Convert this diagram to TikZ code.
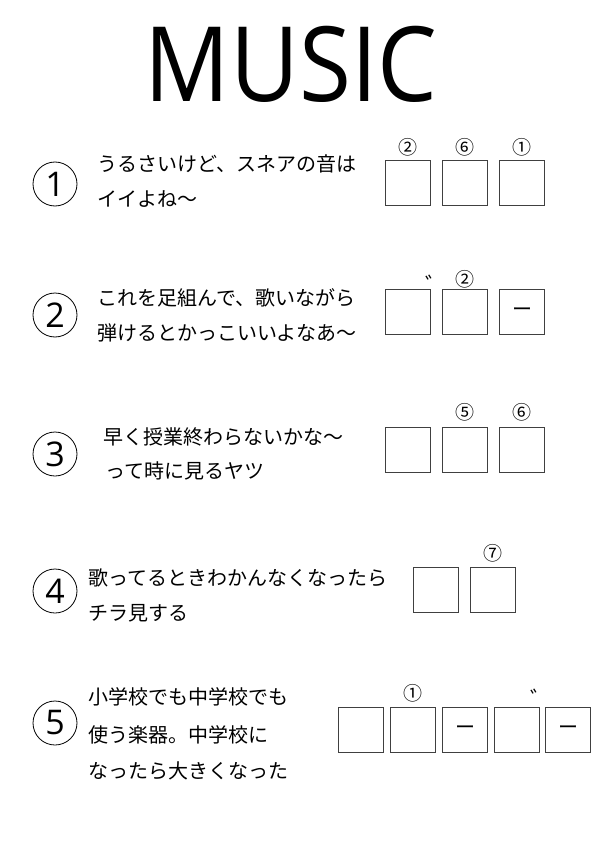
\documentclass[tikz,border=0pt]{standalone}
\usepackage{fontspec}
\setmainfont{Noto Sans CJK JP}
\newfontfamily\titlefont{Open Sans}
\begin{document}
\begin{tikzpicture}[x=1pt,y=-1pt,
  ansbox/.style={draw=black!75,line width=1pt,minimum size=45pt,inner sep=0pt,font=\fontsize{20}{20}\selectfont},
  numcirc/.style={draw,circle,line width=0.8pt,minimum size=44pt,inner sep=0pt,font=\titlefont\fontsize{34}{34}\selectfont},
  hint/.style={inner sep=0pt,font=\fontsize{19}{19}\selectfont},
  dak/.style={inner sep=0pt,font=\fontsize{22}{22}\selectfont},
  qtext/.style={anchor=west,inner sep=0pt,font=\fontsize{20}{20}\selectfont}]
\useasboundingbox (0,0) rectangle (595,842);
\node[inner sep=0pt,xscale=0.91,font=\titlefont\fontsize{104}{104}\selectfont] (title) at (291,64) {MUSIC};
% Row 1
\node[numcirc] (c1) at (55,184) {1};
\node[qtext] (t1a) at (97,164) {うるさいけど、スネアの音は};
\node[qtext] (t1b) at (97,199) {イイよね～};
\node[ansbox] (b11) at (408,183) {};
\node[ansbox] (b12) at (465,183) {};
\node[ansbox] (b13) at (522,183) {};
\node[hint] (h11) at (408,147) {②};
\node[hint] (h12) at (465,147) {⑥};
\node[hint] (h13) at (522,147) {①};
% Row 2
\node[numcirc] (c2) at (55,315) {2};
\node[qtext] (t2a) at (97,298) {これを足組んで、歌いながら};
\node[qtext] (t2b) at (97,333) {弾けるとかっこいいよなあ～};
\node[ansbox] (b21) at (408,312) {};
\node[ansbox] (b22) at (465,312) {};
\node[ansbox] (b23) at (522,312) {ー};
\node[dak] (d21) at (436,284) {゛};
\node[hint] (h22) at (465,279) {②};
% Row 3
\node[numcirc] (c3) at (55,454) {3};
\node[qtext] (t3a) at (103,437) {早く授業終わらないかな～};
\node[qtext] (t3b) at (105,471) {って時に見るヤツ};
\node[ansbox] (b31) at (408,450) {};
\node[ansbox] (b32) at (465,450) {};
\node[ansbox] (b33) at (522,450) {};
\node[hint] (h32) at (465,412) {⑤};
\node[hint] (h33) at (522,412) {⑥};
% Row 4
\node[numcirc] (c4) at (55,591) {4};
\node[qtext] (t4a) at (88,578) {歌ってるときわかんなくなったら};
\node[qtext] (t4b) at (88,613) {チラ見する};
\node[ansbox] (b41) at (436,590) {};
\node[ansbox] (b42) at (493,590) {};
\node[hint] (h42) at (493,553) {⑦};
% Row 5
\node[numcirc] (c5) at (55,723) {5};
\node[qtext] (t5a) at (88,697) {小学校でも中学校でも};
\node[qtext] (t5b) at (88,735) {使う楽器。中学校に};
\node[qtext] (t5c) at (88,771) {なったら大きくなった};
\node[ansbox] (b51) at (361,730) {};
\node[ansbox] (b52) at (413,730) {};
\node[ansbox] (b53) at (465,730) {ー};
\node[ansbox] (b54) at (517,730) {};
\node[ansbox] (b55) at (568,730) {ー};
\node[hint] (h52) at (413,693) {①};
\node[dak] (d54) at (541,698) {゛};
\end{tikzpicture}
\end{document}
